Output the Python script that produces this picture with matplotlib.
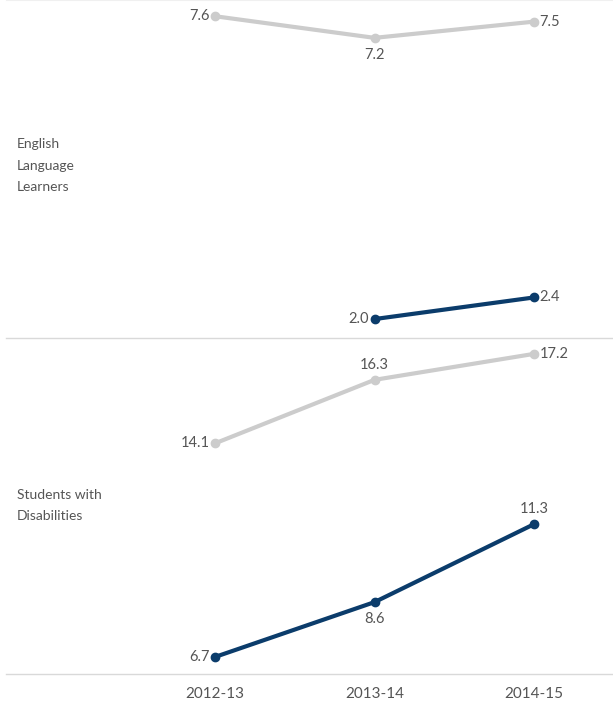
import numpy as np
import matplotlib.pyplot as plt

years = ['2012-13', '2013-14', '2014-15']
groups = ['English\nLanguage\nLearners', 'Students with\nDisabilities']
ell_gray = [7.6, 7.2, 7.5]
ell_blue = [np.nan, 2.0, 2.4]
swd_gray = [14.1, 16.3, 17.2]
swd_blue = [6.7, 8.6, 11.3]

GRAY = '#cccccc'
BLUE = '#0b3c6b'
TXT = '#555555'
plt.rcParams['font.family'] = ['Lato', 'DejaVu Sans']

W, H = 613, 706
fig = plt.figure(figsize=(W / 100, H / 100), dpi=100)

def px_axes(x0, y0, x1, y1):
    return fig.add_axes([x0 / W, 1 - y1 / H, (x1 - x0) / W, (y1 - y0) / H])

# label placement per point: (dx, dy, ha, va) in points
L = (-4, 0, 'right', 'center')
R = (4, 0, 'left', 'center')
U = (0, 6, 'center', 'bottom')
D = (0, -7, 'center', 'top')

panels = [
    (px_axes(6, 0, 613, 338), groups[0], ell_gray, ell_blue, (1.65, 7.9),
     [L, D, R], [None, L, R], 0.509),
    (px_axes(6, 338, 613, 674), groups[1], swd_gray, swd_blue, (6.11, 17.75),
     [L, U, R], [L, D, U], 0.501),
]

x = np.arange(len(years))
for ax, label, gray, blue, ylim, gpos, bpos, ly in panels:
    ax.plot(x, gray, color=GRAY, lw=3, marker='o', ms=6, solid_capstyle='round')
    ax.plot(x, blue, color=BLUE, lw=3, marker='o', ms=6, solid_capstyle='round')
    for vals, pos in ((gray, gpos), (blue, bpos)):
        for xi, v, p in zip(x, vals, pos):
            if p is None or np.isnan(v):
                continue
            ax.annotate(f'{v:.1f}', (xi, v), xytext=(p[0], p[1]), textcoords='offset points',
                        ha=p[2], va=p[3], fontsize=10.5, color=TXT)
    ax.text(11 / 607, ly, label, transform=ax.transAxes, fontsize=10, color=TXT,
            ha='left', va='center', linespacing=1.95)
    ax.set_xlim(-1.31, 2.495)
    ax.set_ylim(*ylim)
    ax.set_yticks([])
    for s in ('left', 'right', 'top'):
        ax.spines[s].set_visible(False)
    ax.spines['bottom'].set_color('#d9d9d9')
    ax.spines['bottom'].set_linewidth(1.0)
    ax.tick_params(axis='x', length=0, labelsize=11, labelcolor=TXT, pad=9)
    ax.set_xticks(x)
    ax.set_xticklabels(years)
    ax.patch.set_alpha(0)

panels[0][0].tick_params(axis='x', labelbottom=False)
# faint line at the very top
panels[0][0].spines['top'].set_visible(True)
panels[0][0].spines['top'].set_color('#f0f0f0')

fig.savefig('out.png', dpi=100)
